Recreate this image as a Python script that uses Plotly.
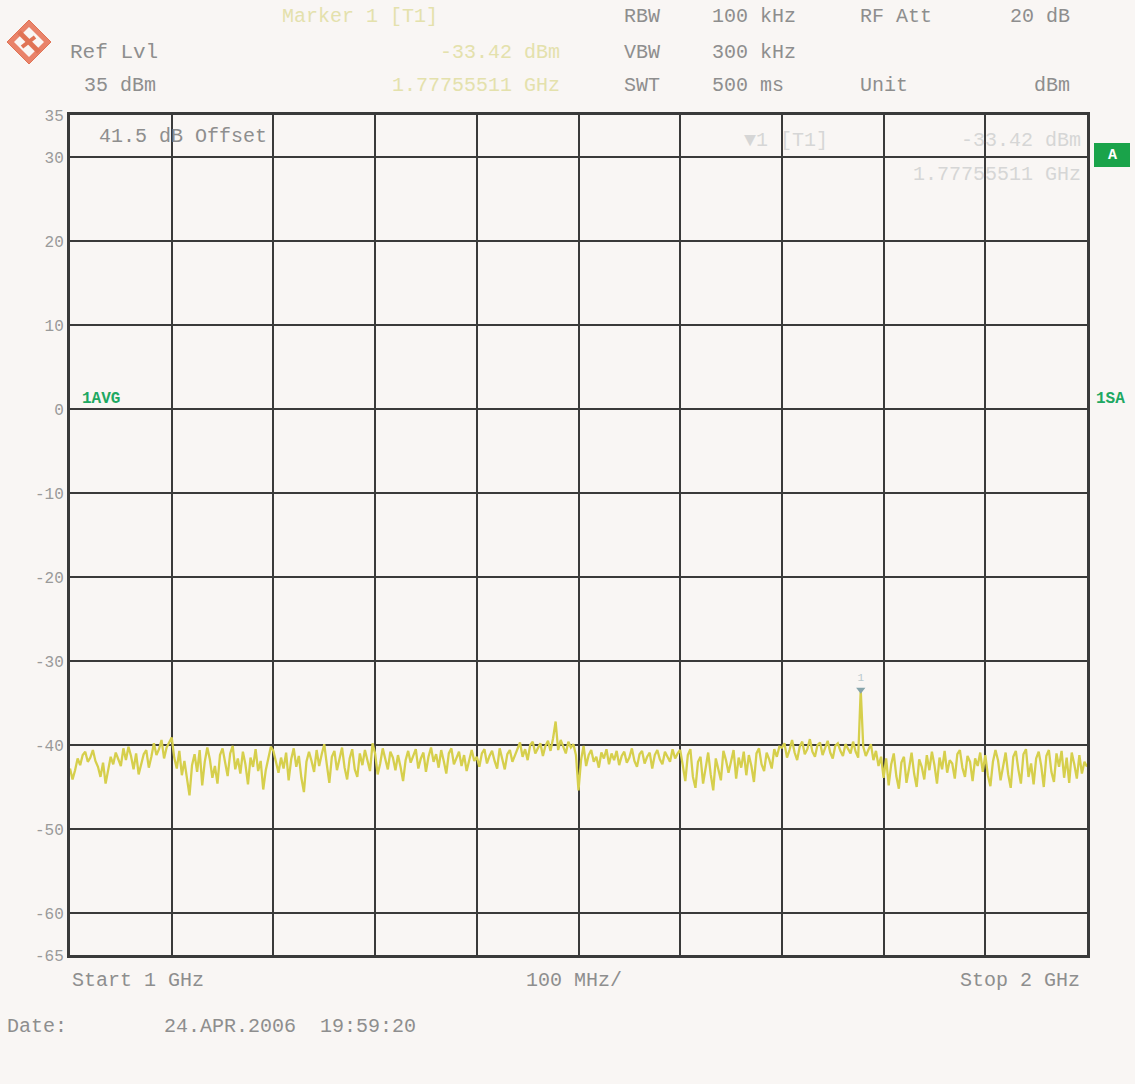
import numpy as np
import plotly.graph_objects as go

# ---------------- data ----------------
start_ghz = 1.0
stop_ghz = 2.0
n_points = 401

level_div1 = [-42.8, -44.1, -43.0, -41.6, -42.4, -41.2, -40.8, -42.0, -41.5, -40.6,
              -41.9, -42.6, -43.8, -42.1, -44.6, -43.2, -41.4, -42.3, -40.9, -41.7,
              -42.5, -40.4, -41.8, -40.2, -41.3, -42.9, -41.0, -43.5, -42.2, -41.1,
              -40.6, -42.7, -41.4, -39.8, -41.2, -40.5, -39.4, -41.6, -40.3, -39.7]
level_div2 = [-39.1, -41.5, -42.8, -40.7, -43.6, -41.9, -44.3, -46.0, -42.4, -41.1,
              -43.2, -40.6, -44.8, -42.0, -40.3, -41.7, -43.9, -42.5, -44.6, -41.2,
              -40.4, -42.2, -43.7, -41.0, -40.1, -42.9, -41.6, -43.4, -40.8, -42.3,
              -44.7, -41.5, -42.6, -40.5, -43.1, -41.9, -45.3, -43.0, -41.4, -40.2]
level_div3 = [-40.7, -42.1, -43.3, -41.5, -42.8, -40.9, -44.2, -41.7, -40.4, -42.6,
              -41.3, -43.9, -45.6, -42.0, -40.8, -41.9, -43.2, -40.6, -42.5, -41.1,
              -39.9, -42.3, -44.5, -41.4, -40.7, -43.0, -41.8, -40.3, -42.7, -44.1,
              -41.6, -40.5, -42.9, -43.8, -41.0, -42.4, -40.6, -41.8, -43.1, -39.8]
level_div4 = [-41.0, -43.5, -42.2, -40.4, -41.7, -42.9, -40.8, -41.5, -43.0, -41.2,
              -42.6, -44.3, -41.8, -40.7, -42.1, -41.3, -40.5, -42.8, -41.6, -40.9,
              -43.2, -41.4, -40.3, -42.0, -41.1, -42.7, -40.6, -41.9, -43.4, -41.0,
              -40.4, -42.3, -41.5, -40.8, -42.5, -41.2, -43.1, -41.7, -40.6, -41.9]
level_div5 = [-41.4, -42.6, -41.0, -40.5, -42.2, -41.3, -40.7, -41.9, -42.8, -40.4,
              -41.5, -42.9, -41.1, -40.6, -42.0, -41.2, -40.3, -39.7, -41.4, -40.5,
              -41.8, -40.0, -39.6, -41.0, -40.4, -39.8, -41.3, -40.1, -39.5, -40.7,
              -39.2, -37.2, -40.6, -39.4, -40.2, -41.0, -39.6, -40.3, -39.9, -41.2]
level_div6 = [-45.4, -41.8, -40.1, -42.5, -41.2, -40.6, -42.0, -41.4, -42.7, -40.9,
              -41.6, -40.5, -42.3, -41.0, -41.8, -40.7, -42.4, -41.3, -40.8, -42.1,
              -41.5, -40.4, -41.9, -42.6, -41.1, -40.7, -42.2, -41.4, -40.9, -42.8,
              -41.2, -40.6, -41.7, -42.3, -40.8, -41.5, -42.0, -40.5, -41.6, -41.0]
level_div7 = [-40.6, -42.4, -44.3, -41.2, -40.5, -43.8, -45.1, -42.0, -41.4, -44.6,
              -42.8, -40.9, -43.5, -45.4, -41.6, -42.9, -44.2, -40.7, -41.8, -43.3,
              -42.1, -40.6, -44.0, -41.5, -42.7, -40.8, -43.6, -41.2, -42.5, -44.4,
              -41.0, -40.4, -42.3, -43.1, -40.9, -41.7, -42.8, -40.5, -41.4, -40.2]
level_div8 = [-40.3, -39.8, -41.5, -40.6, -39.4, -40.9, -41.8, -40.2, -39.6, -41.1,
              -40.5, -39.3, -40.8, -41.4, -40.0, -39.7, -41.2, -40.4, -39.5, -40.9,
              -41.6, -40.1, -39.8, -40.7, -41.3, -39.9, -40.5, -41.0, -39.6, -40.8,
              -41.5, -33.42, -40.2, -41.3, -40.6, -39.9, -41.8, -40.7, -42.5, -41.4]
level_div9 = [-43.9, -41.6, -44.8, -42.3, -41.0, -43.7, -45.2, -42.1, -41.4, -44.5,
              -42.8, -40.9, -43.4, -45.0, -41.7, -42.6, -44.1, -41.2, -43.0, -40.8,
              -42.4, -44.6, -41.5, -42.9, -40.7, -43.3, -41.8, -42.2, -44.0, -41.1,
              -40.6, -42.7, -43.8, -41.3, -42.0, -44.3, -41.6, -42.5, -40.9, -43.2]
level_div10 = [-41.2, -43.6, -44.9, -42.0, -40.6, -41.8, -44.2, -42.7, -40.9, -43.5,
               -45.1, -41.4, -40.7, -42.9, -44.6, -41.1, -40.5, -43.8, -42.2, -44.7,
               -41.6, -40.8, -42.5, -45.0, -41.3, -40.6, -43.2, -44.4, -41.0, -42.6,
               -40.7, -43.9, -41.5, -44.5, -40.9, -42.3, -44.0, -41.2, -43.4, -42.0]
level_end = [-42.6]

marker_freq_ghz = [1.77755511]
marker_level_dbm = [-33.42]

y_tick_vals = [35, 30, 20, 10, 0, -10, -20, -30, -40, -50, -60, -65]
y_tick_text = ["35", "30", "20", "10", "0", "-10", "-20", "-30", "-40", "-50", "-60", "-65"]

levels = (level_div1 + level_div2 + level_div3 + level_div4 + level_div5 +
          level_div6 + level_div7 + level_div8 + level_div9 + level_div10 + level_end)
freqs = np.linspace(start_ghz, stop_ghz, n_points)

# ---------------- layout helpers ----------------
W, H = 1135, 1084
L, R, T, B = 70, 1087, 115, 955


def px(x):
    return (x - L) / (R - L)


def py(y):
    return (B - y) / (B - T)


FONT = "Liberation Mono, DejaVu Sans Mono, monospace"
GREY = "#8e8e8e"
PALE_Y = "#e4e1ac"
PALE_G = "#d6d6d6"
GRID = "#3a3a3a"
BG = "#f9f6f4"

fig = go.Figure()
fig.add_trace(go.Scatter(x=freqs, y=levels, mode="lines",
                         line=dict(color="#d6cf4c", width=2.3),
                         hoverinfo="skip", showlegend=False))
fig.add_trace(go.Scatter(x=marker_freq_ghz, y=marker_level_dbm, mode="markers+text",
                         marker=dict(symbol="triangle-down", size=8, color="#86a4ab"),
                         text=["1"], textposition="top center",
                         textfont=dict(family=FONT, size=11, color="#b8c8cc"),
                         showlegend=False, hoverinfo="skip"))

ann = []


def txt(x, y, s, color=GREY, size=20, anchor="left", bold=False):
    ann.append(dict(x=px(x), y=py(y), xref="paper", yref="paper", text=s,
                    showarrow=False, xanchor=anchor, yanchor="middle",
                    font=dict(family=FONT, size=size, color=color,
                              weight="bold" if bold else "normal")))


# header
txt(68, 52, "Ref Lvl", size=21)
txt(82, 86, "35 dBm")
txt(280, 17, "Marker 1 [T1]", PALE_Y)
txt(562, 52, "-33.42 dBm", PALE_Y, anchor="right")
txt(562, 86, "1.77755511 GHz", PALE_Y, anchor="right")
txt(622, 17, "RBW")
txt(710, 17, "100 kHz")
txt(858, 17, "RF Att")
txt(1072, 17, "20 dB", anchor="right")
txt(622, 52, "VBW")
txt(710, 52, "300 kHz")
txt(622, 86, "SWT")
txt(710, 86, "500 ms")
txt(858, 86, "Unit")
txt(1072, 86, "dBm", anchor="right")
# in plot
txt(97, 136, "41.5 dB Offset")
txt(742, 140, "\u25bc1 [T1]", PALE_G)
txt(1083, 140, "-33.42 dBm", PALE_G, anchor="right")
txt(1083, 175, "1.77755511 GHz", PALE_G, anchor="right")
txt(80, 399, "1AVG", "#1ea862", 16, bold=True)
txt(1094, 399, "1SA", "#1ea862", 16, bold=True)
txt(1112, 155, "A", "#ffffff", 15, anchor="center", bold=True)
# footer
txt(70, 981, "Start 1 GHz")
txt(524, 981, "100 MHz/")
txt(1082, 981, "Stop 2 GHz", anchor="right")
txt(5, 1026, "Date:")
txt(162, 1026, "24.APR.2006  19:59:20")

shapes = [
    dict(type="rect", xref="paper", yref="paper", x0=px(1094), x1=px(1130),
         y0=py(167), y1=py(143), fillcolor="#1aa34a", line=dict(width=0), layer="above"),
]


def diamond(cx, cy, r):
    return (f"M {px(cx - r)} {py(cy)} L {px(cx)} {py(cy - r)} "
            f"L {px(cx + r)} {py(cy)} L {px(cx)} {py(cy + r)} Z")


# R&S-like logo
shapes.append(dict(type="path", xref="paper", yref="paper", path=diamond(29, 42, 22),
                   fillcolor="#e9836a", line=dict(color="#e07355", width=1)))
shapes.append(dict(type="path", xref="paper", yref="paper", path=diamond(29, 42, 15),
                   fillcolor=BG, line=dict(width=0)))
shapes.append(dict(type="path", xref="paper", yref="paper",
                   path=f"M {px(19)} {py(32)} L {px(39)} {py(52)}",
                   line=dict(color="#e07355", width=5)))
shapes.append(dict(type="path", xref="paper", yref="paper",
                   path=f"M {px(22)} {py(47)} L {px(35)} {py(37)}",
                   line=dict(color="#e07355", width=4)))

fig.update_layout(
    width=W, height=H,
    margin=dict(l=L, r=W - R, t=T, b=H - B),
    paper_bgcolor=BG, plot_bgcolor=BG,
    annotations=ann, shapes=shapes,
    xaxis=dict(range=[start_ghz, stop_ghz], tick0=1.0, dtick=0.1,
               showticklabels=False, ticks="", showgrid=True,
               gridcolor=GRID, gridwidth=2, zeroline=False,
               showline=True, linecolor=GRID, linewidth=3, mirror=True),
    yaxis=dict(range=[-65, 35], tickmode="array", tickvals=y_tick_vals,
               ticktext=y_tick_text, ticks="", showgrid=True,
               gridcolor=GRID, gridwidth=2, zeroline=False,
               showline=True, linecolor=GRID, linewidth=3, mirror=True,
               tickfont=dict(family=FONT, size=16, color="#9a9a9a")),
)

fig.write_html("out.html",
               config={"displayModeBar": False},
               post_script="document.body.style.margin='0';document.body.style.padding='0';"
                           "document.body.style.background='" + BG + "';")
